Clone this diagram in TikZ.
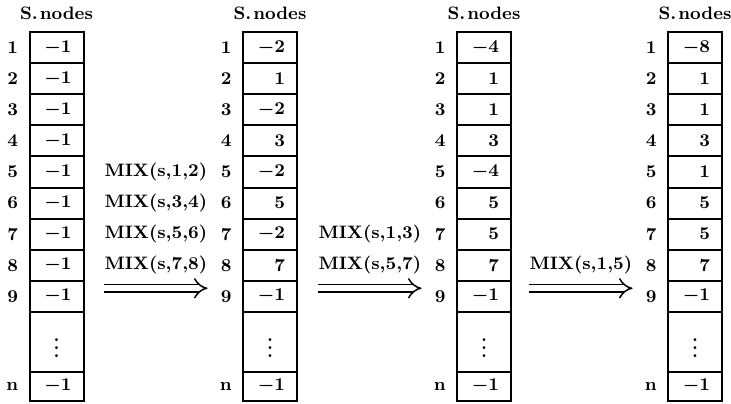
\documentclass[tikz,border=0pt]{standalone}
\usetikzlibrary{arrows.meta,positioning}

\begin{document}
\begin{tikzpicture}[
  font=\fontsize{9}{11}\selectfont\bfseries\boldmath,
  node distance=0pt,
  cell/.style={draw, line width=1pt, outer sep=0pt, inner xsep=6pt, inner ysep=0pt,
               text width=15pt, align=right, minimum height=15.55pt},
  dotcell/.style={cell, align=center, minimum height=30pt},
  lastcell/.style={cell, minimum height=14.5pt},
  idx/.style={inner sep=0pt},
  mix/.style={inner sep=0pt},
  mixarrow/.style={double, double distance=2.8pt, line width=0.75pt, -{Implies}}]
  \useasboundingbox (0,0) rectangle (365.5pt,-201.5pt);
  % the four snapshots of the array
  \foreach \c/\xc/\vals in {1/28.25pt/{-1,-1,-1,-1,-1,-1,-1,-1,-1},
                            2/135pt/{-2,1,-2,3,-2,5,-2,7,-1},
                            3/242pt/{-4,1,1,3,-4,5,5,7,-1},
                            4/347.5pt/{-8,1,1,3,1,5,5,7,-1}} {
    \foreach \v [count=\r, remember=\r as \pr (initially 0)] in \vals {
      \ifnum\r=1
        \node[cell, anchor=north] (c\c-\r) at (\xc,-16pt) {$\v$};
      \else
        \node[cell, below=of c\c-\pr] (c\c-\r) {$\v$};
      \fi
      \node[idx, left=5.5pt of c\c-\r] (i\c-\r) {\r};
    }
    \node[dotcell, below=of c\c-9] (c\c-dots) {$\vdots$};
    \node[lastcell, below=of c\c-dots] (c\c-n) {$-1$};
    \node[idx, left=5.5pt of c\c-n] (i\c-n) {n};
    \node[inner xsep=0pt, above=2.5pt of c\c-1] (h\c) {S.\kern1pt nodes};
  }
  % merge steps
  \node[mix, left=6.5pt of i2-5] (m2-5) {MIX(s,1,2)};
  \node[mix, left=6.5pt of i2-6] (m2-6) {MIX(s,3,4)};
  \node[mix, left=6.5pt of i2-7] (m2-7) {MIX(s,5,6)};
  \node[mix, left=6.5pt of i2-8] (m2-8) {MIX(s,7,8)};
  \node[mix, left=6.5pt of i3-7] (m3-7) {MIX(s,1,3)};
  \node[mix, left=6.5pt of i3-8] (m3-8) {MIX(s,5,7)};
  \node[mix, left=6.5pt of i4-8] (m4-8) {MIX(s,1,5)};
  \foreach \m in {m2-8, m3-8, m4-8}
    \draw[mixarrow] ([yshift=-11.5pt]\m.west) -- ([yshift=-11.5pt]\m.east);
\end{tikzpicture}
\end{document}
